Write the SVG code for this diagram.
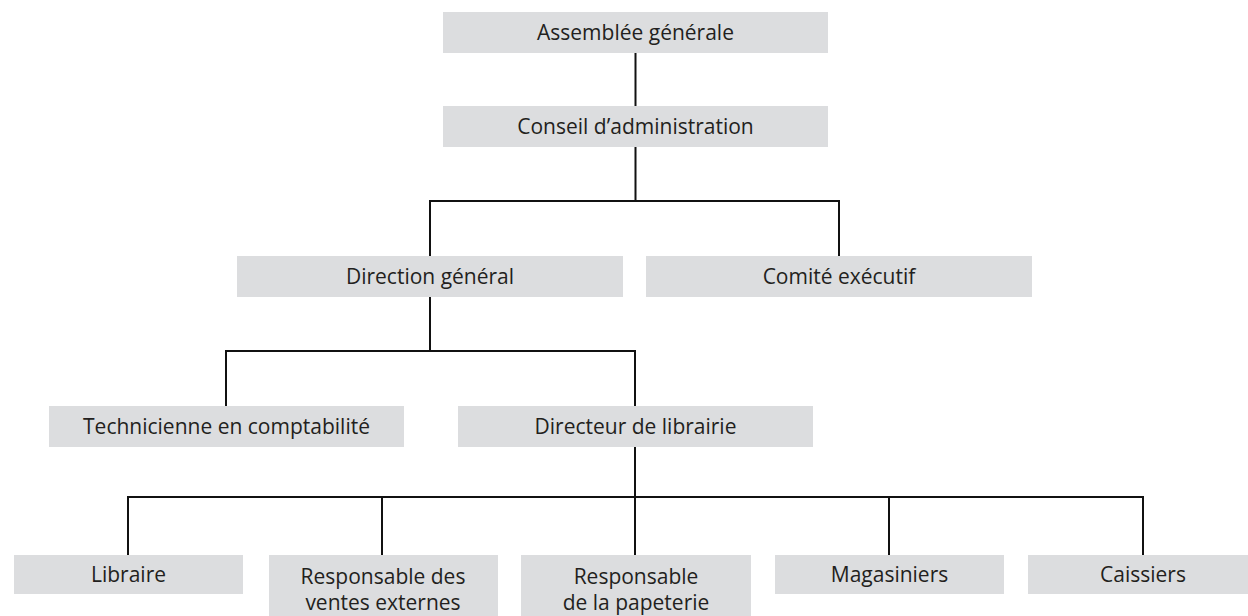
<svg xmlns="http://www.w3.org/2000/svg" width="1248" height="616" viewBox="0 0 1248 616">
<style>
.box{fill:#dcdddf;}
.t{font-family:"Open Sans","Noto Sans","Liberation Sans",sans-serif;font-size:21px;fill:#231f20;text-anchor:middle;}
.c{fill:none;stroke:#111;stroke-width:2;stroke-linejoin:miter;}
</style>
<rect width="1248" height="616" fill="#ffffff"/>
<g id="connectors">
<path class="c" d="M635.5 53V106"/>
<path class="c" d="M635.5 147V201M430 256V201H839V256"/>
<path class="c" d="M430 297V351M226 406V351H635V406"/>
<path class="c" d="M635 447V555M128 555V497H1143V555M382 497V555M889 497V555"/>
</g>
<g id="assemblee"><rect class="box" x="443" y="12" width="385" height="41"/><text class="t" x="635.5" y="40">Assemblée générale</text></g>
<g id="conseil"><rect class="box" x="443" y="106" width="385" height="41"/><text class="t" x="635.5" y="134">Conseil d’administration</text></g>
<g id="direction"><rect class="box" x="237" y="256" width="386" height="41"/><text class="t" x="430" y="284">Direction général</text></g>
<g id="comite"><rect class="box" x="646" y="256" width="386" height="41"/><text class="t" x="839" y="284">Comité exécutif</text></g>
<g id="technicienne"><rect class="box" x="49" y="406" width="355" height="41"/><text class="t" x="226.5" y="434">Technicienne en comptabilité</text></g>
<g id="directeur"><rect class="box" x="458" y="406" width="355" height="41"/><text class="t" x="635.5" y="434">Directeur de librairie</text></g>
<g id="libraire"><rect class="box" x="14" y="555" width="229" height="39"/><text class="t" x="128.5" y="582">Libraire</text></g>
<g id="ventes"><rect class="box" x="269" y="555" width="229" height="61"/><text class="t" x="383" y="584">Responsable des</text><text class="t" x="383" y="610">ventes externes</text></g>
<g id="papeterie"><rect class="box" x="521" y="555" width="230" height="61"/><text class="t" x="636" y="584">Responsable</text><text class="t" x="636" y="610">de la papeterie</text></g>
<g id="magasiniers"><rect class="box" x="775" y="555" width="229" height="39"/><text class="t" x="889.5" y="582">Magasiniers</text></g>
<g id="caissiers"><rect class="box" x="1028" y="555" width="230" height="39"/><text class="t" x="1143" y="582">Caissiers</text></g>
</svg>
